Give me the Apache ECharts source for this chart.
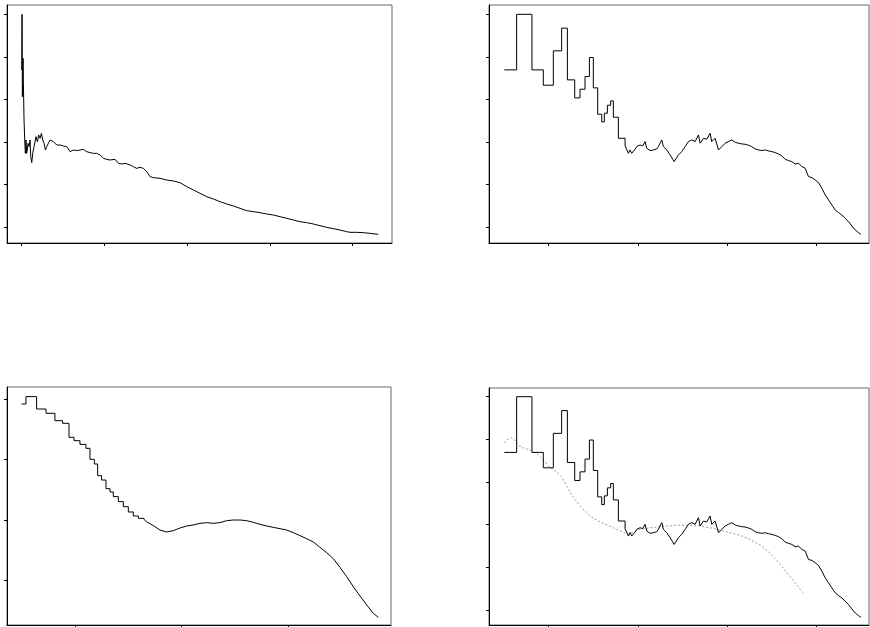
<!DOCTYPE html>
<html>
<head>
<meta charset="utf-8">
<script src="https://cdn.jsdelivr.net/npm/echarts@6/dist/echarts.min.js"></script>
<style>
  html, body { margin: 0; padding: 0; background: #fff; }
  #chart { width: 870px; height: 627px; }
</style>
</head>
<body>
<div id="chart"></div>
<script>
// Panel A: running estimate along the sample index
const runX = [0, 0.004, 0.008, 0.016, 0.020, 0.028, 0.036, 0.044, 0.052, 0.060,
  0.077, 0.089, 0.101, 0.109, 0.121, 0.133, 0.149, 0.165, 0.173, 0.189,
  0.205, 0.222, 0.238, 0.254, 0.270, 0.286, 0.302, 0.322, 0.342, 0.363,
  0.383, 0.403, 0.423, 0.443, 0.463, 0.504, 0.544, 0.584, 0.624, 0.665,
  0.705, 0.745, 0.785, 0.826, 0.866, 0.906, 0.947, 0.987, 1.027, 1.067,
  1.128, 1.168, 1.208, 1.249, 1.309, 1.349, 1.390, 1.430, 1.470, 1.511,
  1.551, 1.591, 1.672, 1.752, 1.833, 1.913, 1.994, 2.075, 2.155, 2.236,
  2.316, 2.397, 2.477, 2.558, 2.639, 2.719, 2.800, 2.880, 2.961, 3.041,
  3.122, 3.202, 3.283, 3.364, 3.444, 3.525, 3.605, 3.686, 3.766, 3.847,
  3.927, 3.968, 4.048, 4.129, 4.209, 4.310];
const runY = [3.691, 5.0, 3.064, 3.966, 3.378, 2.516, 2.045, 1.732, 2.045, 1.732,
  1.967, 1.889, 2.045, 1.654, 1.513, 1.732, 1.889, 2.045, 2.124, 2.006,
  2.163, 2.085, 2.202, 2.045, 1.967, 1.810, 1.889, 1.967, 2.045, 2.061,
  2.006, 1.967, 1.928, 1.967, 1.928, 1.904, 1.889, 1.771, 1.810, 1.795,
  1.810, 1.826, 1.771, 1.748, 1.732, 1.732, 1.693, 1.614, 1.591, 1.575,
  1.591, 1.497, 1.481, 1.497, 1.458, 1.418, 1.379, 1.403, 1.379, 1.301,
  1.183, 1.160, 1.144, 1.105, 1.082, 1.042, 0.948, 0.870, 0.792, 0.713,
  0.658, 0.596, 0.541, 0.494, 0.439, 0.384, 0.361, 0.337, 0.306, 0.282,
  0.243, 0.204, 0.165, 0.125, 0.102, 0.071, 0.031, -0.008, -0.039, -0.071,
  -0.110, -0.125, -0.125, -0.133, -0.149, -0.172];

// Panels B and D: step levels (start of each level, level value)
const stepX = [0.508, 0.646, 0.817, 0.944, 1.056, 1.149, 1.213, 1.295, 1.354, 1.410,
  1.459, 1.503, 1.552, 1.597, 1.626, 1.660, 1.697, 1.727, 1.783, 1.858];
const stepY = [3.694, 5.0, 3.694, 3.333, 4.141, 4.675, 3.459, 3.035, 3.239, 3.537,
  3.984, 3.271, 2.651, 2.471, 2.675, 2.863, 2.965, 2.580, 2.086, 1.906];

// Panels B and D: dense tail after the step section
const tailX = [1.858, 1.895, 1.913, 1.932, 1.969, 1.988, 2.025, 2.055, 2.081, 2.100,
  2.137, 2.175, 2.212, 2.230, 2.249, 2.268, 2.286, 2.324, 2.361, 2.380,
  2.406, 2.417, 2.454, 2.491, 2.529, 2.566, 2.603, 2.622, 2.641, 2.678,
  2.697, 2.734, 2.771, 2.808, 2.827, 2.864, 2.902, 2.939, 2.976, 3.013,
  3.051, 3.088, 3.125, 3.163, 3.200, 3.237, 3.274, 3.312, 3.349, 3.386,
  3.424, 3.461, 3.498, 3.535, 3.573, 3.610, 3.647, 3.685, 3.722, 3.759,
  3.796, 3.834, 3.871, 3.908, 3.946, 3.983, 4.020, 4.057, 4.095, 4.132,
  4.169, 4.207, 4.244, 4.281, 4.318, 4.356, 4.393, 4.430, 4.467, 4.494];
const tailY = [1.906, 1.733, 1.812, 1.733, 1.827, 1.890, 1.929, 1.906, 2.008, 1.851,
  1.796, 1.812, 1.835, 1.890, 1.969, 2.047, 1.890, 1.812, 1.694, 1.655,
  1.537, 1.576, 1.694, 1.773, 1.890, 2.008, 2.047, 2.086, 2.008, 2.165,
  1.969, 2.086, 2.063, 2.204, 2.008, 2.086, 1.812, 1.890, 1.969, 2.008,
  2.047, 1.992, 1.969, 1.953, 1.945, 1.922, 1.890, 1.835, 1.812, 1.796,
  1.812, 1.788, 1.773, 1.749, 1.718, 1.671, 1.592, 1.561, 1.537, 1.482,
  1.498, 1.420, 1.380, 1.184, 1.161, 1.106, 1.043, 0.910, 0.753, 0.635,
  0.518, 0.400, 0.337, 0.282, 0.204, 0.125, 0.024, -0.071, -0.133, -0.173];

// Panel C: step section followed by smooth section
const cStepX = [-0.501, -0.460, -0.360, -0.272, -0.188, -0.116, -0.056, -0.009, 0.047, 0.103,
  0.141, 0.182, 0.213, 0.250, 0.291, 0.329, 0.360, 0.407, 0.454, 0.501,
  0.548, 0.595, 0.648];
const cStepY = [2.922, 3.044, 2.839, 2.767, 2.645, 2.601, 2.369, 2.313, 2.252, 2.186,
  2.003, 1.926, 1.732, 1.660, 1.516, 1.461, 1.384, 1.301, 1.217, 1.129,
  1.063, 1.024, 1.007];
const cSmoothX = [0.648, 0.673, 0.736, 0.798, 0.861, 0.923, 0.986, 1.049, 1.111, 1.174,
  1.236, 1.299, 1.362, 1.424, 1.487, 1.549, 1.612, 1.674, 1.737, 1.800,
  1.862, 1.925, 1.987, 2.050, 2.113, 2.175, 2.238, 2.300, 2.363, 2.426,
  2.488, 2.551, 2.613, 2.676, 2.739, 2.801, 2.848];
const cSmoothY = [1.007, 0.968, 0.902, 0.830, 0.797, 0.819, 0.863, 0.897, 0.913, 0.941,
  0.952, 0.941, 0.952, 0.985, 0.996, 0.996, 0.985, 0.957, 0.924, 0.897,
  0.874, 0.852, 0.830, 0.786, 0.736, 0.686, 0.631, 0.542, 0.454, 0.354,
  0.210, 0.055, -0.111, -0.266, -0.415, -0.553, -0.620];

// Panel D: smoothed reference curve (dotted grey)
const refX = [0.508, 0.541, 0.590, 0.627, 0.664, 0.720, 0.795, 0.869, 0.944, 1.019,
  1.093, 1.149, 1.205, 1.280, 1.354, 1.429, 1.503, 1.615, 1.727, 1.839,
  1.895, 1.951, 2.025, 2.137, 2.249, 2.361, 2.473, 2.585, 2.697, 2.808,
  2.920, 3.032, 3.144, 3.256, 3.368, 3.480, 3.591, 3.703, 3.845];
const refY = [3.919, 3.997, 4.036, 3.981, 3.864, 3.802, 3.747, 3.669, 3.513, 3.341,
  3.240, 3.123, 2.904, 2.639, 2.436, 2.279, 2.147, 2.030, 1.928, 1.819,
  1.780, 1.834, 1.889, 1.928, 1.952, 1.975, 1.991, 1.983, 1.967, 1.928,
  1.874, 1.811, 1.749, 1.655, 1.522, 1.327, 1.069, 0.781, 0.406];

// Tick positions (labels are not shown)
const ticksAX = [0, 1, 2, 3, 4];
const ticksAY = [0, 1, 2, 3, 4, 5];
const ticksBX = [1, 2, 3, 4];
const ticksBY = [0, 1, 2, 3, 4, 5];
const ticksCX = [0, 1, 2];
const ticksCY = [0, 1, 2, 3];

const pairs = (xs, ys) => xs.map((x, i) => [x, ys[i]]);

const grids = [
  { left: 7, top: 5, width: 385, height: 238 },
  { left: 489, top: 5, width: 380, height: 238 },
  { left: 7, top: 387, width: 384, height: 238 },
  { left: 489, top: 388, width: 380, height: 237 }
].map(g => Object.assign({ show: true, borderColor: '#666', borderWidth: 1, backgroundColor: 'transparent' }, g));

function axis(gridIndex, min, max, ticks) {
  return {
    type: 'value', gridIndex, min, max,
    axisLine: { show: true, onZero: false, lineStyle: { color: '#000', width: 1 } },
    axisTick: { show: true, customValues: ticks, length: 3, lineStyle: { color: '#000', width: 1 } },
    axisLabel: { show: false, customValues: ticks },
    splitLine: { show: false }
  };
}

const xAxes = [
  axis(0, -0.178, 4.475, ticksAX),
  axis(1, 0.337, 4.584, ticksBX),
  axis(2, -0.638, 2.967, ticksCX),
  axis(3, 0.337, 4.584, ticksBX)
];
const yAxes = [
  axis(0, -0.376, 5.219, ticksAY),
  axis(1, -0.376, 5.219, ticksBY),
  axis(2, -0.747, 3.204, ticksCY),
  axis(3, -0.352, 5.204, ticksBY)
];

const solid = { color: '#000', width: 1 };
function line(idx, data, extra) {
  return Object.assign({
    type: 'line', xAxisIndex: idx, yAxisIndex: idx, data,
    showSymbol: false, symbol: 'none', silent: true,
    lineStyle: solid, itemStyle: { color: '#000' }
  }, extra || {});
}

const chart = echarts.init(document.getElementById('chart'), null, { renderer: 'canvas' });
chart.setOption({
  animation: false,
  backgroundColor: '#fff',
  grid: grids,
  xAxis: xAxes,
  yAxis: yAxes,
  series: [
    line(0, pairs(runX, runY)),
    line(1, pairs(stepX, stepY), { step: 'end' }),
    line(1, pairs(tailX, tailY)),
    line(2, pairs(cStepX, cStepY), { step: 'end' }),
    line(2, pairs(cSmoothX, cSmoothY)),
    line(3, pairs(refX, refY), { lineStyle: { color: '#999', width: 1, type: [2, 2] } }),
    line(3, pairs(stepX, stepY), { step: 'end' }),
    line(3, pairs(tailX, tailY))
  ]
});
</script>
</body>
</html>
